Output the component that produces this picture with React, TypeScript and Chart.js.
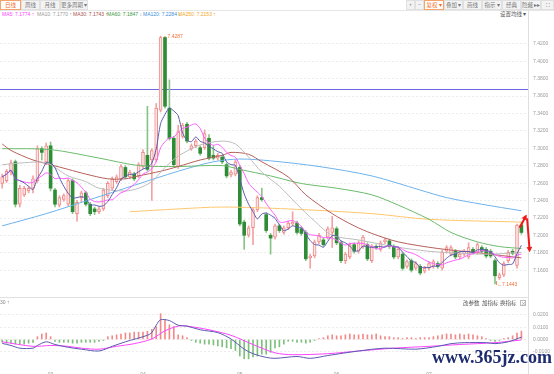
import React, { useEffect, useRef } from "react";
import { Chart, registerables } from "chart.js";
Chart.register(...registerables);

// ---------- price data (daily candles) ----------
const OPEN = [7.2598,7.2630,7.2727,7.2846,7.2359,7.2467,7.2511,7.2543,7.2630,7.2997,
7.2846,7.3030,7.2522,7.2348,7.2413,7.2359,7.2630,7.2251,7.2435,7.2489,
7.2359,7.2305,7.2273,7.2305,7.2457,7.2543,7.2619,7.2651,7.2781,7.2673,
7.2705,7.2684,7.2792,7.2921,7.2867,7.2867,7.3440,7.4273,7.3462,7.3116,
7.2792,7.3138,7.3278,7.2997,7.3030,7.3008,7.3008,7.3116,7.2921,7.2889,
7.2900,7.2813,7.2695,7.2705,7.2781,7.2154,7.2003,7.2089,7.2294,7.2435,
7.2240,7.2003,7.1981,7.2111,7.2035,7.2089,7.2132,7.2143,7.2078,7.2035,
7.1743,7.1765,7.1927,7.1949,7.1981,7.2035,7.2078,7.1916,7.1711,7.1754,
7.1895,7.1819,7.1873,7.1895,7.1711,7.1873,7.1841,7.1927,7.1938,7.1873,
7.1754,7.1786,7.1646,7.1711,7.1624,7.1646,7.1592,7.1624,7.1646,7.1678,
7.1624,7.1819,7.1786,7.1819,7.1754,7.1786,7.1754,7.1841,7.1808,7.1862,
7.1841,7.1819,7.1711,7.1516,7.1549,7.1711,7.1819,7.1657,7.2121];
const HIGH = [7.2705,7.2759,7.2867,7.2867,7.2576,7.2565,7.2565,7.2684,7.3030,7.3019,
7.3062,7.3073,7.2543,7.2457,7.2478,7.2651,7.2651,7.2403,7.2511,7.2511,
7.2381,7.2327,7.2327,7.2543,7.2619,7.2673,7.2695,7.2813,7.2803,7.2749,
7.2727,7.2835,7.2986,7.3484,7.2997,7.3516,7.4287,7.4284,7.3786,7.3138,
7.3267,7.3289,7.3300,7.3051,7.3105,7.3030,7.3213,7.3159,7.3030,7.2943,
7.2921,7.2835,7.2749,7.2867,7.2803,7.2176,7.2111,7.2316,7.2457,7.2543,
7.2262,7.2024,7.2132,7.2132,7.2111,7.2165,7.2273,7.2165,7.2100,7.2057,
7.1786,7.1949,7.2024,7.1970,7.2100,7.2219,7.2100,7.1938,7.1808,7.1916,
7.1916,7.1938,7.2003,7.1916,7.1895,7.1895,7.1938,7.1970,7.1959,7.1895,
7.1862,7.1808,7.1722,7.1732,7.1700,7.1668,7.1646,7.1700,7.1722,7.1700,
7.1830,7.1884,7.1884,7.1841,7.1808,7.1841,7.1916,7.1862,7.1916,7.1884,
7.1862,7.1841,7.1732,7.1570,7.1700,7.1830,7.1841,7.2132,7.2154];
const LOW = [7.2543,7.2608,7.2695,7.2327,7.2327,7.2446,7.2489,7.2489,7.2608,7.2867,
7.2813,7.2511,7.2327,7.2327,7.2392,7.2338,7.2251,7.2165,7.2381,7.2338,
7.2229,7.2240,7.2251,7.2284,7.2435,7.2522,7.2598,7.2630,7.2651,7.2651,
7.2630,7.2662,7.2770,7.2738,7.2403,7.2846,7.3419,7.3462,7.3095,7.2792,
7.2770,7.3116,7.3062,7.2976,7.3008,7.2921,7.2986,7.2867,7.2867,7.2867,
7.2824,7.2662,7.2673,7.2684,7.2111,7.1841,7.1981,7.1895,7.2273,7.2392,
7.2035,7.1786,7.1959,7.2035,7.2014,7.2067,7.2111,7.2014,7.2003,7.1711,
7.1624,7.1743,7.1905,7.1873,7.1959,7.1862,7.1895,7.1689,7.1678,7.1732,
7.1797,7.1797,7.1851,7.1711,7.1689,7.1841,7.1819,7.1905,7.1851,7.1732,
7.1732,7.1603,7.1624,7.1581,7.1603,7.1549,7.1570,7.1603,7.1624,7.1624,
7.1603,7.1797,7.1765,7.1732,7.1732,7.1765,7.1732,7.1786,7.1786,7.1797,
7.1743,7.1743,7.1443,7.1495,7.1527,7.1689,7.1776,7.1624,7.2014];
const CLOSE = [7.2673,7.2738,7.2835,7.2359,7.2543,7.2543,7.2543,7.2651,7.2997,7.2954,
7.3030,7.2543,7.2359,7.2435,7.2457,7.2630,7.2273,7.2381,7.2489,7.2359,
7.2251,7.2273,7.2305,7.2522,7.2598,7.2651,7.2673,7.2792,7.2673,7.2727,
7.2651,7.2813,7.2954,7.2759,7.2976,7.3462,7.4273,7.3484,7.3116,7.2813,
7.3192,7.3267,7.3084,7.3030,7.3084,7.2943,7.3170,7.2889,7.2889,7.2921,
7.2846,7.2684,7.2727,7.2846,7.2132,7.2003,7.2089,7.2294,7.2435,7.2413,
7.2057,7.1970,7.2111,7.2057,7.2089,7.2143,7.2154,7.2035,7.2024,7.1732,
7.1765,7.1927,7.2003,7.1895,7.2078,7.2089,7.1916,7.1711,7.1786,7.1895,
7.1819,7.1916,7.1981,7.1732,7.1873,7.1862,7.1916,7.1949,7.1873,7.1754,
7.1841,7.1624,7.1700,7.1603,7.1678,7.1570,7.1624,7.1678,7.1700,7.1646,
7.1808,7.1862,7.1862,7.1754,7.1786,7.1819,7.1862,7.1808,7.1895,7.1819,
7.1765,7.1765,7.1538,7.1549,7.1678,7.1808,7.1797,7.2121,7.2035];

// slower moving averages (slot index -> value)
const MA20_IDX = [0,5,10,15,19,22,28,31,34,37,40,45,50,53,56,59,63,67,71,75,81,89,97,104,111,118];
const MA20_VAL = [7.2813,7.2835,7.2835,7.2684,7.2619,7.2543,7.2511,7.2543,7.2619,7.2781,7.2911,7.3040,7.3084,7.3051,7.2900,7.2727,7.2565,7.2359,7.2165,7.2003,7.1949,7.1873,7.1819,7.1797,7.1786,7.1808];
const MA30_IDX = [0,2,7,11,15,19,24,28,31,36,40,45,50,52,56,59,65,69,75,80,84,90,99,109,118];
const MA30_VAL = [7.3051,7.2976,7.2867,7.2813,7.2759,7.2705,7.2651,7.2651,7.2684,7.2738,7.2792,7.2867,7.2921,7.2954,7.2932,7.2846,7.2673,7.2467,7.2251,7.2111,7.2024,7.1927,7.1851,7.1797,7.1743];
const MA60_IDX = [0,11,22,31,40,50,54,61,68,76,84,90,97,102,108,113,118];
const MA60_VAL = [7.2997,7.2986,7.2889,7.2803,7.2792,7.2803,7.2759,7.2684,7.2597,7.2543,7.2467,7.2349,7.2186,7.2035,7.1927,7.1873,7.1851];
const MA120_IDX = [0,10,20,30,40,48,54,61,72,84,95,101,109,118];
const MA120_VAL = [7.2111,7.2251,7.2413,7.2576,7.2738,7.2846,7.2878,7.2857,7.2792,7.2684,7.2522,7.2435,7.2359,7.2284];
const MA250_IDX = [29,40,50,65,84,97,118];
const MA250_VAL = [7.2273,7.2305,7.2327,7.2305,7.2251,7.2186,7.2154];
const HLINE = 7.3678;
// annotation arrows: [fromSlot, fromValue, toSlot, toValue]
const ARROWS = [[117.6, 7.2089, 119.2, 7.2240], [119.3, 7.2197, 119.9, 7.1808]];

// legend text
const MA_NAMES = ["MA5", "MA10", "MA30", "MA60", "MA120", "MA250"];
const MA_VALUES = ["7.1774", "7.1770", "7.1743", "7.1847", "7.2284", "7.2153"];
const MA_ARROWS = ["↑", "↑", "↑", "↓", "↓", "↑"];
const MA_COLORS = ["#ff44ff", "#9a9a9a", "#a8504a", "#3c9a3c", "#3a8fdc", "#f4a524"];
const MA_X = [2, 37, 73, 107, 143, 178];

// MACD
const HIST = [-0.0023,-0.003,-0.003,-0.0038,-0.0038,-0.0038,-0.003,-0.0023,0.0023,0.0045,
0.0053,0.0023,-0.0015,-0.0023,-0.0023,-0.0023,-0.003,-0.003,-0.0023,-0.0023,
-0.0023,-0.0023,-0.0015,-0.0008,0.0023,0.003,0.0038,0.0045,0.0053,0.0053,
0.006,0.006,0.006,0.0068,0.0083,0.0105,0.021,0.0158,0.012,0.0105,
0.0038,0.003,0.0015,-0.0008,-0.0023,-0.003,-0.0038,-0.0038,-0.0045,-0.0053,
-0.006,-0.0068,-0.0075,-0.009,-0.0135,-0.0158,-0.0158,-0.0143,-0.0135,-0.012,
-0.012,-0.0105,-0.0068,-0.006,-0.0038,-0.0015,-0.0015,-0.0023,-0.0023,-0.003,
-0.0023,-0.0008,0.0008,0.0015,0.003,0.0038,0.003,0.003,0.0038,0.0045,
0.0038,0.0038,0.0045,0.0038,0.0038,0.0045,0.003,0.0023,0.0023,0.0015,
0.0015,0.0008,0.0015,0.0015,0.0008,0.0015,0.0015,0.0015,0.0023,0.003,
0.0038,0.0045,0.0045,0.0038,0.0045,0.0038,0.0045,0.0038,0.003,0.0023,
0.0008,-0.0008,-0.0015,-0.0008,0.0008,0.0015,0.003,0.0053,0.0068];
const DIF_IDX = [0,2,4,7,8,10,12,15,18,22,25,28,33,34,35,36,38,40,42,45,49,52,55,57,60,62,67,70,74,81,87,94,99,102,105,110,112,115,118];
const DIF_VAL = [-0.0032,-0.0049,-0.0071,-0.0071,-0.0049,-0.0019,-0.0041,-0.0064,-0.0079,-0.0094,-0.0056,-0.0019,0.0034,0.0056,0.0116,0.0161,0.0154,0.0116,0.0109,0.0079,0.0056,0.0004,-0.0079,-0.0116,-0.0146,-0.0154,-0.0139,-0.0154,-0.0131,-0.0094,-0.0071,-0.0079,-0.0056,-0.0034,-0.0026,-0.0026,-0.0034,-0.0019,0.0019];
const DEA_IDX = [0,7,11,15,18,22,26,30,34,37,40,42,47,52,57,62,66,74,81,89,97,104,112,118];
const DEA_VAL = [-0.0019,-0.0056,-0.0049,-0.0056,-0.0071,-0.0079,-0.0056,-0.0034,0.0004,0.0071,0.0109,0.0109,0.0079,0.0034,-0.0041,-0.0109,-0.0124,-0.0116,-0.0094,-0.0071,-0.0056,-0.0041,-0.0026,-0.0004];

// axis
const SLOTS = 120;
const MONTH_IDX = [11, 32, 54, 76, 97];
const MONTH_TXT = ["03", "04", "05", "06", "07"];

const LABELS = Array.from({ length: SLOTS }, (_, i) => String(i));

function sparse(idx: number[], val: number[]) {
  const a: (number | null)[] = Array(SLOTS).fill(null);
  idx.forEach((k, j) => { a[k] = val[j]; });
  return a;
}
function movingAvg(src: number[], n: number) {
  return src.map((_, i) => {
    const w = src.slice(Math.max(0, i - n + 1), i + 1);
    return w.reduce((a, b) => a + b, 0) / w.length;
  });
}

const FONT = '"Noto Sans CJK SC", "Liberation Sans", sans-serif';

const annotPlugin = {
  id: "annot",
  beforeDatasetsDraw(chart: any) {
    const { ctx, chartArea, scales } = chart;
    const y = Math.round(scales.y.getPixelForValue(HLINE)) + 0.5;
    ctx.save();
    ctx.strokeStyle = "#6a6ae0";
    ctx.lineWidth = 1;
    ctx.beginPath();
    ctx.moveTo(chartArea.left, y);
    ctx.lineTo(chartArea.right, y);
    ctx.stroke();
    ctx.restore();
  },
  afterDatasetsDraw(chart: any) {
    const { ctx, scales } = chart;
    const xs = scales.x, ys = scales.y;
    ctx.save();
    ctx.font = "5px 'Liberation Sans'";
    ctx.fillStyle = "#f0703a";
    ctx.strokeStyle = "#f0703a";
    ctx.textBaseline = "middle";
    let hi = 0, lo = 0;
    HIGH.forEach((v, i) => { if (v > HIGH[hi]) hi = i; });
    LOW.forEach((v, i) => { if (v < LOW[lo]) lo = i; });
    const hx = xs.getPixelForValue(hi), hy = ys.getPixelForValue(HIGH[hi]);
    ctx.fillText("←" + HIGH[hi].toFixed(4), hx + 2, hy);
    const lx = xs.getPixelForValue(lo), ly = ys.getPixelForValue(LOW[lo]);
    ctx.beginPath();
    ctx.lineWidth = 0.8;
    ctx.moveTo(lx + 1.5, ly - 3);
    ctx.lineTo(lx + 1.5, ly + 1);
    ctx.stroke();
    ctx.fillText("←" + LOW[lo].toFixed(4), lx + 2, ly + 1);
    ctx.strokeStyle = "#f01818";
    ctx.fillStyle = "#f01818";
    ctx.lineWidth = 2;
    ARROWS.forEach(([i0, v0, i1, v1]) => {
      const x0 = xs.getPixelForValue(i0), y0 = ys.getPixelForValue(v0);
      const x1 = xs.getPixelForValue(i1), y1 = ys.getPixelForValue(v1);
      const a = Math.atan2(y1 - y0, x1 - x0);
      ctx.beginPath();
      ctx.moveTo(x0, y0);
      ctx.lineTo(x1 - 3 * Math.cos(a), y1 - 3 * Math.sin(a));
      ctx.stroke();
      ctx.beginPath();
      ctx.moveTo(x1, y1);
      ctx.lineTo(x1 - 6 * Math.cos(a - 0.5), y1 - 6 * Math.sin(a - 0.5));
      ctx.lineTo(x1 - 6 * Math.cos(a + 0.5), y1 - 6 * Math.sin(a + 0.5));
      ctx.closePath();
      ctx.fill();
    });
    ctx.restore();
  },
};

function lineDs(label: string, data: any[], color: string, tension = 0.3) {
  return {
    type: "line" as const, label, data, borderColor: color, borderWidth: 1,
    pointRadius: 0, tension, spanGaps: true, order: 0,
  };
}

export default function App() {
  const mainRef = useRef<HTMLCanvasElement>(null);
  const macdRef = useRef<HTMLCanvasElement>(null);

  useEffect(() => {
    const up = CLOSE.map((c, i) => c >= OPEN[i]);
    const bodies = OPEN.map((o, i) => [Math.min(o, CLOSE[i]), Math.max(o, CLOSE[i])]);
    const wicks = LOW.map((l, i) => [l, HIGH[i]]);
    const ma5 = movingAvg(CLOSE, 5);
    const ma10 = movingAvg(CLOSE, 10);

    const main = new Chart(mainRef.current!, {
      type: "bar",
      data: {
        labels: LABELS,
        datasets: [
          lineDs("MA5", ma5, "#5b5bb0", 0.25),
          lineDs("MA10", ma10, "#ff5cff", 0.25),
          lineDs("MA20", sparse(MA20_IDX, MA20_VAL), "#bdbdbd"),
          lineDs("MA30", sparse(MA30_IDX, MA30_VAL), "#b5605a"),
          lineDs("MA60", sparse(MA60_IDX, MA60_VAL), "#6cbc6c"),
          lineDs("MA120", sparse(MA120_IDX, MA120_VAL), "#6db3ee"),
          lineDs("MA250", sparse(MA250_IDX, MA250_VAL), "#ffc76e"),
          {
            type: "bar", label: "body", data: bodies as any,
            backgroundColor: up.map((u) => (u ? "#fde6e6" : "#2e8b36")),
            borderColor: up.map((u) => (u ? "#f08a8a" : "#2e8b36")),
            borderWidth: up.map((u) => (u ? 1 : 0)),
            borderSkipped: false, barThickness: 3, grouped: false, minBarLength: 1, order: 1,
          },
          {
            type: "bar", label: "wick", data: wicks as any,
            backgroundColor: up.map((u) => (u ? "#f3a2a2" : "#86c586")),
            barThickness: 1, grouped: false, order: 2,
          },
        ],
      },
      options: {
        animation: false, responsive: false, maintainAspectRatio: false,
        layout: { padding: 0 },
        plugins: { legend: { display: false }, tooltip: { enabled: false } },
        scales: {
          x: { display: false, offset: true },
          y: {
            position: "right", min: 7.1386, max: 7.4359,
            afterFit: (s: any) => { s.width = 26; },
            afterBuildTicks: (s: any) => { s.ticks = s.ticks.filter((t: any) => t.value > 7.15 && t.value < 7.43); },
            ticks: {
              stepSize: 0.02, includeBounds: false, padding: 5, color: "#9a9a9a",
              font: { size: 5, family: "Liberation Sans" },
              callback: (v: any) => Number(v).toFixed(4),
            },
            grid: { color: "#ececec", drawTicks: false },
            border: { display: false, dash: [2, 2] },
          },
        },
      },
      plugins: [annotPlugin],
    } as any);

    const macd = new Chart(macdRef.current!, {
      type: "bar",
      data: {
        labels: LABELS,
        datasets: [
          lineDs("DIF", sparse(DIF_IDX, DIF_VAL), "#5b5bb0", 0.3),
          lineDs("DEA", sparse(DEA_IDX, DEA_VAL), "#ff44ff", 0.3),
          {
            type: "bar", label: "MACD", data: HIST,
            backgroundColor: HIST.map((v) => (v >= 0 ? "#f28a8a" : "#7cc07c")),
            barThickness: 1, grouped: false, order: 1,
          },
        ],
      },
      options: {
        animation: false, responsive: false, maintainAspectRatio: false,
        layout: { padding: { top: 3 } },
        plugins: { legend: { display: false }, tooltip: { enabled: false } },
        scales: {
          x: {
            offset: true,
            afterFit: (s: any) => { s.height = 12; },
            grid: { display: false },
            border: { display: false },
            ticks: {
              autoSkip: false, maxRotation: 0, minRotation: 0, padding: 2, color: "#9a9a9a",
              font: { size: 5, family: "Liberation Sans" },
              callback: (_v: any, i: number) => {
                const k = MONTH_IDX.indexOf(i);
                return k >= 0 ? MONTH_TXT[k] : "";
              },
            },
          },
          y: {
            position: "right", min: -0.018375, max: 0.028125,
            afterFit: (s: any) => { s.width = 26; },
            ticks: {
              stepSize: 0.01, includeBounds: false, padding: 5, color: "#9a9a9a",
              font: { size: 5, family: "Liberation Sans" },
              callback: (v: any) => Number(v).toFixed(4),
            },
            grid: { color: "#ececec", drawTicks: false },
            border: { display: false, dash: [2, 2] },
          },
        },
      },
    } as any);

    return () => { main.destroy(); macd.destroy(); };
  }, []);

  const tabs = [
    { t: "日线", x: 0, w: 21, a: true },
    { t: "周线", x: 21, w: 19, a: false },
    { t: "月线", x: 40, w: 20, a: false },
    { t: "更多周期 ▾", x: 60, w: 28, a: false },
  ];
  const tools = [
    { t: "+", x: 406, w: 9, a: false },
    { t: "−", x: 415, w: 9, a: false },
    { t: "复权 ▾", x: 424, w: 20, a: true },
    { t: "叠加 ▾", x: 444, w: 19, a: false },
    { t: "画线", x: 463, w: 19, a: false },
    { t: "指示 ▾", x: 482, w: 20, a: false },
    { t: "经典", x: 502, w: 19, a: false },
    { t: "隐藏 ▸▸", x: 521, w: 20, a: false },
    { t: "⛶", x: 541, w: 13, a: false },
  ];
  const btn = (b: any, k: string) => (
    <div key={k} style={{
      position: "absolute", left: b.x, top: 0, width: b.w, height: 10, boxSizing: "border-box",
      border: `1px solid ${b.a ? "#f5a36c" : "#e0e0e0"}`, background: b.a ? "#fff" : "#f3f3f3",
      color: b.a ? "#f26b1d" : "#777", fontSize: "5.5px", lineHeight: "8px", textAlign: "center",
      whiteSpace: "nowrap", overflow: "hidden",
    }}>{b.t}</div>
  );

  return (
    <div style={{ position: "absolute", left: 0, top: 0, width: 554, height: 374, background: "#fff", overflow: "hidden", fontFamily: FONT }}>
      <div style={{ position: "absolute", left: 528, top: 10, width: 1, height: 364, background: "#dedede" }} />
      <div style={{ position: "absolute", left: 0, top: 297, width: 528, height: 1, background: "#e2e2e2" }} />
      {tabs.map((b, i) => btn(b, "t" + i))}
      {tools.map((b, i) => btn(b, "b" + i))}
      <div style={{ position: "absolute", left: 0, top: 10, width: 554, height: 1, background: "#e6e6e6" }} />
      {MA_NAMES.map((n, i) => (
        <div key={n} style={{ position: "absolute", left: MA_X[i], top: 11, fontSize: "5px", lineHeight: "7px", color: MA_COLORS[i], whiteSpace: "nowrap", fontFamily: '"Liberation Sans", sans-serif' }}>
          {n}: {MA_VALUES[i]} {MA_ARROWS[i]}
        </div>
      ))}
      <div style={{ position: "absolute", left: 500, top: 11, fontSize: "5.5px", lineHeight: "7px", color: "#555", whiteSpace: "nowrap" }}>设置均线 ▾</div>
      <canvas ref={mainRef} width={554} height={275} style={{ position: "absolute", left: 0, top: 22 }} />
      <canvas ref={macdRef} width={554} height={77} style={{ position: "absolute", left: 0, top: 297 }} />
      <div style={{ position: "absolute", left: 0, top: 299, fontSize: "5px", lineHeight: "7px", color: "#888", fontFamily: '"Liberation Sans", sans-serif' }}>30 ↑</div>
      <div style={{ position: "absolute", left: 463, top: 300, fontSize: "5.5px", lineHeight: "7px", color: "#555", whiteSpace: "nowrap" }}>改参数</div>
      <div style={{ position: "absolute", left: 482, top: 300, fontSize: "5.5px", lineHeight: "7px", color: "#555", whiteSpace: "nowrap" }}>加指标</div>
      <div style={{ position: "absolute", left: 500, top: 300, fontSize: "5.5px", lineHeight: "7px", color: "#555", whiteSpace: "nowrap" }}>换指标</div>
      <div style={{ position: "absolute", left: 520, top: 300, width: 6, height: 6, boxSizing: "border-box", border: "1px solid #bbb", fontSize: "5px", lineHeight: "4px", textAlign: "center", color: "#777" }}>×</div>
      <div style={{ position: "absolute", left: 432, top: 346, fontSize: "18px", fontWeight: "bold", color: "#1d2c6e", fontFamily: '"Liberation Serif", serif', whiteSpace: "nowrap", lineHeight: "22px" }}>www.365jz.com</div>
    </div>
  );
}
